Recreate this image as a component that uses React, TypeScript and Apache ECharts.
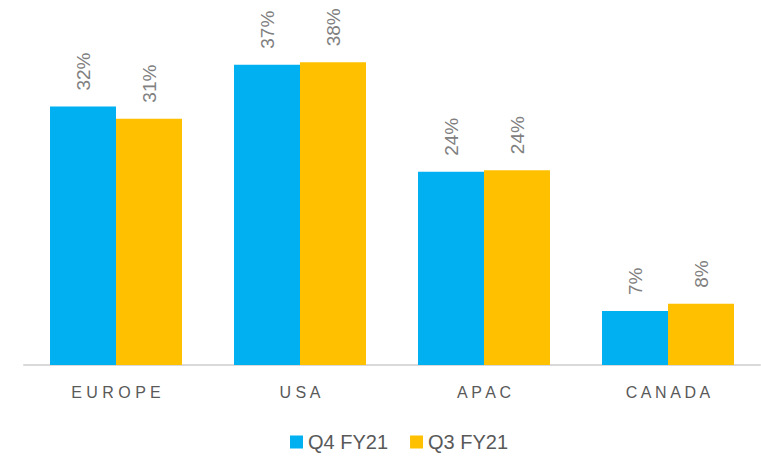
import React, { useEffect, useRef } from "react";
import * as echarts from "echarts";

const categories = ["EUROPE", "USA", "APAC", "CANADA"];
const seriesNames = ["Q4 FY21", "Q3 FY21"];
const q4Values = [32.1, 37.3, 24.0, 6.7];
const q3Values = [30.6, 37.6, 24.2, 7.6];
const colors = ["#00b0f0", "#ffc000"];

const FONT = "'Liberation Sans', Arial, sans-serif";

export default function App() {
  const ref = useRef<HTMLDivElement>(null);
  useEffect(() => {
    if (!ref.current) return;
    const chart = echarts.init(ref.current, undefined, { renderer: "svg" });
    const label = {
      show: true,
      position: "top",
      rotate: 90,
      align: "left",
      verticalAlign: "middle",
      distance: 16,
      color: "#808080",
      fontSize: 19,
      fontFamily: FONT,
      formatter: (p: any) => Math.round(p.value) + "%",
    };
    chart.setOption({
      animation: false,
      backgroundColor: "#ffffff",
      grid: { left: 24, right: 1, top: 43, bottom: 94 },
      legend: {
        bottom: 2,
        left: 285,
        icon: "rect",
        itemWidth: 13,
        itemHeight: 13,
        itemGap: 22,
        itemStyle: { borderWidth: 0 },
        textStyle: { color: "#595959", fontSize: 20, fontFamily: FONT },
        data: seriesNames,
      },
      xAxis: {
        type: "category",
        data: categories,
        axisTick: { show: false },
        axisLine: { lineStyle: { color: "#d9d9d9", width: 2 } },
        axisLabel: {
          color: "#595959",
          fontSize: 16,
          fontFamily: FONT,
          margin: 19,
          formatter: (v: string) => v.split("").join(" "),
        },
      },
      yAxis: {
        type: "value",
        min: 0,
        max: 40,
        show: false,
        splitLine: { show: false },
      },
      series: [
        {
          name: seriesNames[0],
          type: "bar",
          data: q4Values,
          barWidth: 66,
          barGap: "0%",
          itemStyle: { color: colors[0] },
          label,
        },
        {
          name: seriesNames[1],
          type: "bar",
          data: q3Values,
          barWidth: 66,
          barGap: "0%",
          itemStyle: { color: colors[1] },
          label,
        },
      ],
    });
    return () => chart.dispose();
  }, []);
  return (
    <div
      ref={ref}
      style={{ position: "absolute", left: 0, top: 0, width: 761, height: 459 }}
    />
  );
}
